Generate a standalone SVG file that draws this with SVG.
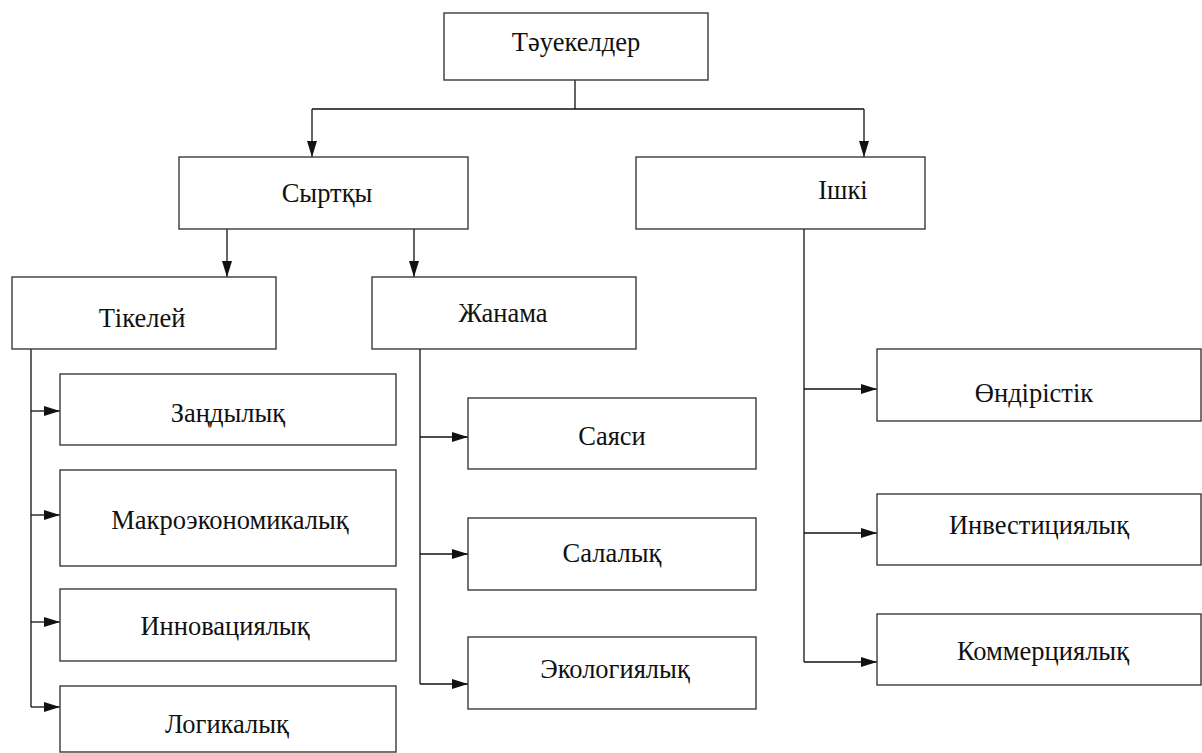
<svg xmlns="http://www.w3.org/2000/svg" width="1202" height="753" viewBox="0 0 1202 753">
<style>
.box{fill:#fff;stroke:#3a3a3a;stroke-width:1.4}
.lbl{font-family:"Liberation Serif","Times New Roman","DejaVu Serif",serif;font-size:26.5px;fill:#111;text-anchor:middle}
.ln{fill:none;stroke:#111;stroke-width:1.3}
.arr{fill:none;stroke:#111;stroke-width:1.3;marker-end:url(#ah)}
</style>
<defs>
<marker id="ah" markerUnits="userSpaceOnUse" markerWidth="16" markerHeight="10" refX="16" refY="5" orient="auto">
<path d="M0,0 L16,5 L0,10 Z" fill="#111"/>
</marker>
</defs>
<rect width="1202" height="753" fill="#fff"/>
<g id="connectors">
<path class="ln" d="M575,80 V109 M312,109 H864"/>
<path class="arr" d="M312,109 V157"/>
<path class="arr" d="M864,109 V157"/>
<path class="arr" d="M227,229 V277"/>
<path class="arr" d="M414,229 V277"/>
<path class="ln" d="M31,349 V707"/>
<path class="arr" d="M31,411 H60"/>
<path class="arr" d="M31,515 H60"/>
<path class="arr" d="M31,622 H60"/>
<path class="arr" d="M31,707 H60"/>
<path class="ln" d="M420,349 V684"/>
<path class="arr" d="M420,437 H468"/>
<path class="arr" d="M420,554 H468"/>
<path class="arr" d="M420,684 H468"/>
<path class="ln" d="M804,229 V662"/>
<path class="arr" d="M804,389 H877"/>
<path class="arr" d="M804,533 H877"/>
<path class="arr" d="M804,662 H877"/>
</g>
<g id="n-root"><rect class="box" x="444" y="13" width="264" height="67"/><text class="lbl" x="576" y="51">Тәуекелдер</text></g>
<g id="n-syrtky"><rect class="box" x="179" y="157" width="289" height="72"/><text class="lbl" x="327" y="202">Сыртқы</text></g>
<g id="n-ishki"><rect class="box" x="636" y="157" width="289" height="72"/><text class="lbl" x="843" y="199">Ішкі</text></g>
<g id="n-tikelei"><rect class="box" x="12" y="277" width="264" height="72"/><text class="lbl" x="142" y="327">Тікелей</text></g>
<g id="n-zhanama"><rect class="box" x="372" y="277" width="264" height="72"/><text class="lbl" x="503" y="322">Жанама</text></g>
<g id="n-zandylyk"><rect class="box" x="60" y="374" width="336" height="71"/><text class="lbl" x="228" y="422">Заңдылық</text></g>
<g id="n-makro"><rect class="box" x="60" y="470" width="336" height="96"/><text class="lbl" x="230" y="529">Макроэкономикалық</text></g>
<g id="n-innov"><rect class="box" x="60" y="589" width="336" height="72"/><text class="lbl" x="225" y="635">Инновациялық</text></g>
<g id="n-logik"><rect class="box" x="60" y="686" width="336" height="66"/><text class="lbl" x="227" y="733">Логикалық</text></g>
<g id="n-sayasi"><rect class="box" x="468" y="398" width="288" height="71"/><text class="lbl" x="612" y="445">Саяси</text></g>
<g id="n-salalyk"><rect class="box" x="468" y="518" width="288" height="72"/><text class="lbl" x="612" y="562">Салалық</text></g>
<g id="n-ekolog"><rect class="box" x="468" y="637" width="288" height="72"/><text class="lbl" x="615" y="678">Экологиялық</text></g>
<g id="n-ondiris"><rect class="box" x="877" y="349" width="324" height="72"/><text class="lbl" x="1034" y="402">Өндірістік</text></g>
<g id="n-invest"><rect class="box" x="877" y="494" width="324" height="71"/><text class="lbl" x="1039" y="534">Инвестициялық</text></g>
<g id="n-kommer"><rect class="box" x="877" y="614" width="324" height="71"/><text class="lbl" x="1043" y="660">Коммерциялық</text></g>
</svg>
